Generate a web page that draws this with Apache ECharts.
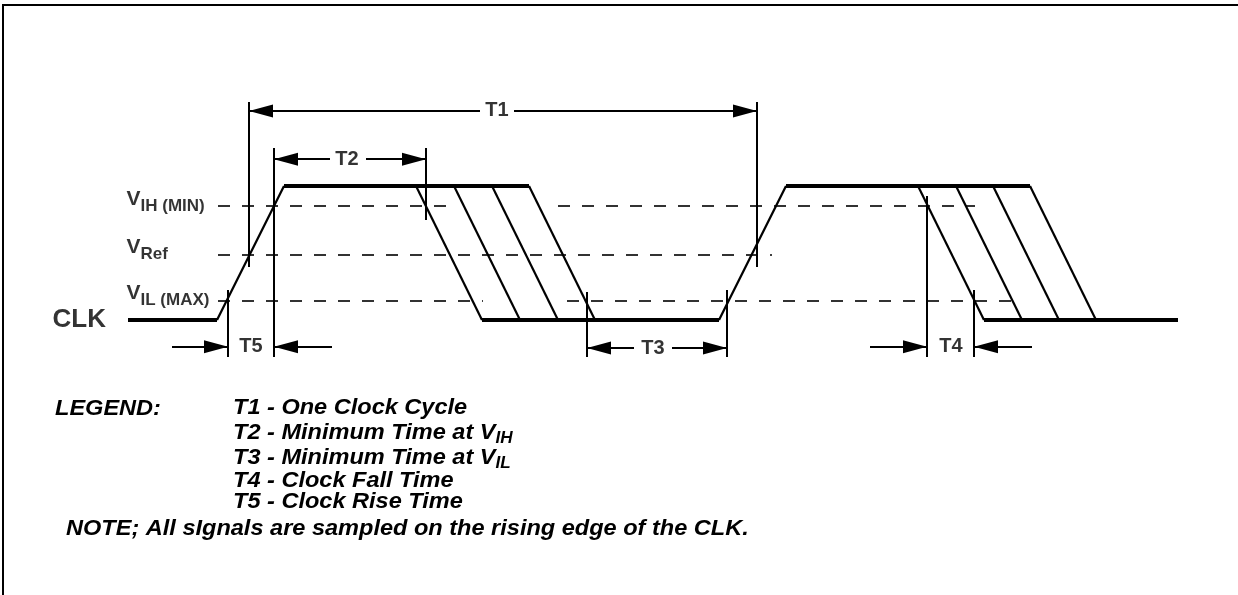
<!DOCTYPE html>
<html>
<head>
<meta charset="utf-8">
<script src="https://cdn.jsdelivr.net/npm/echarts@6/dist/echarts.min.js"></script>
<style>
html, body { margin: 0; padding: 0; background: #fff; }
#main { width: 1238px; height: 595px; }
</style>
</head>
<body>
<div id="main"></div>
<script>
// clock levels: 0 = low, 1 = high
var levelSubs = ['IL (MAX)', 'Ref', 'IH (MIN)'];
var levelValues = [0.145, 0.49, 0.851];
var levelLabelX = 12.6;

// time in units of 10px
var clkStart = 12.8, clkEnd = 117.8;
var riseStarts = [21.7, 71.9];
var riseTime = 6.7;
var fallStarts = [[41.6, 45.4, 49.2, 52.9], [91.8, 95.6, 99.3, 103.0]];
var fallTime = 6.6;

// dashed reference level runs: [level index, from, to]
var dashRuns = [
  [2, 21.8, 45.7], [2, 55.8, 97.5],
  [1, 21.8, 77.2],
  [0, 21.8, 48.3], [0, 56.7, 102.2]
];

// extension lines: [x, yTop, yBottom]
var extLines = [
  [24.9, 1.627, 0.396], [75.7, 1.627, 0.396],
  [27.4, 1.284, -0.276], [42.6, 1.284, 0.746],
  [22.8, 0.224, -0.276],
  [58.7, 0.209, -0.276], [72.7, 0.224, -0.276],
  [92.7, 0.925, -0.276], [97.4, 0.224, -0.276]
];

// dimension marks
var dimNames = ['T1', 'T2', 'T3', 'T4', 'T5'];
var dimY = [1.56, 1.2, -0.209, -0.2, -0.2];
var dimLabelX = [49.7, 34.7, 65.3, 95.1, 25.1];
var dimArrows = [           // [tail, tip] for each half
  [[48.0, 24.9], [51.4, 75.7]],
  [[33.0, 27.4], [36.6, 42.6]],
  [[63.4, 58.7], [67.2, 72.7]],
  [[87.0, 92.7], [103.2, 97.4]],
  [[17.2, 22.8], [33.2, 27.4]]
];

var legendTitle = 'LEGEND:';
var legendLines = [
  ['T1 - One Clock Cycle', ''],
  ['T2 - Minimum Time at V', 'IH'],
  ['T3 - Minimum Time at V', 'IL'],
  ['T4 - Clock Fall Time', ''],
  ['T5 - Clock Rise Time', '']
];
var noteText = 'NOTE; All sIgnals are sampled on the rising edge of the CLK.';

var FONT = '"Liberation Sans", Arial, Helvetica, sans-serif';

// build waveform segments
var flatSegs = [];
var slopeSegs = [];
var lowFrom = clkStart;
riseStarts.forEach(function (rs, i) {
  flatSegs.push({coords: [[lowFrom, 0], [rs, 0]]});
  slopeSegs.push({coords: [[rs, 0], [rs + riseTime, 1]]});
  var falls = fallStarts[i];
  flatSegs.push({coords: [[rs + riseTime, 1], [falls[falls.length - 1], 1]]});
  falls.forEach(function (fs) {
    slopeSegs.push({coords: [[fs, 1], [fs + fallTime, 0]]});
  });
  lowFrom = falls[0] + fallTime;
});
flatSegs.push({coords: [[lowFrom, 0], [clkEnd, 0]]});

var dashSegs = dashRuns.map(function (r) {
  return {coords: [[r[1], levelValues[r[0]]], [r[2], levelValues[r[0]]]]};
});
var extSegs = extLines.map(function (e) {
  return {coords: [[e[0], e[1]], [e[0], e[2]]]};
});

var arrowData = [];
dimArrows.forEach(function (halves, i) {
  halves.forEach(function (h) {
    arrowData.push([
      {coord: [h[0], dimY[i]], symbol: 'none'},
      {coord: [h[1], dimY[i]], symbol: 'triangle', symbolSize: [13, 24], symbolOffset: [0, 12]}
    ]);
  });
});

function linesSeries(data, width, type) {
  return {
    type: 'lines',
    coordinateSystem: 'cartesian2d',
    clip: false,
    silent: true,
    data: data,
    lineStyle: {color: '#000', width: width, type: type || 'solid', opacity: 1}
  };
}

var myChart = echarts.init(document.getElementById('main'));

var textScale = 1.07;
var graphic = [
  {type: 'polyline', shape: {points: [[3, 595], [3, 5], [1238, 5]]},
    style: {stroke: '#000', lineWidth: 2, fill: null}},
  {type: 'text', x: 55, y: 409, scaleX: textScale,
    style: {text: legendTitle, font: 'italic bold 22px ' + FONT, fill: '#000', verticalAlign: 'middle'}}
];
var legendY = [408, 433, 458, 481, 502];
legendLines.forEach(function (l, i) {
  graphic.push({
    type: 'text', x: 233, y: legendY[i], scaleX: textScale,
    style: {
      text: l[1] ? l[0] + '{s|' + l[1] + '}' : l[0],
      font: 'italic bold 22px ' + FONT,
      fill: '#000',
      verticalAlign: 'middle',
      rich: {s: {font: 'italic bold 16px ' + FONT, fill: '#000', padding: [12, 0, 0, 0]}}
    }
  });
});
graphic.push({type: 'text', x: 66, y: 529, scaleX: textScale,
  style: {text: noteText, font: 'italic bold 22px ' + FONT, fill: '#000', verticalAlign: 'middle'}});

var option = {
  animation: false,
  textStyle: {fontFamily: FONT},
  // y: 0 = low level, 1 = high level
  grid: {left: 0, right: 38, top: 52, bottom: 208},
  xAxis: {type: 'value', min: 0, max: 120, show: false},
  yAxis: {type: 'value', min: -0.5, max: 2, show: false},
  graphic: graphic,
  series: [
    linesSeries(flatSegs, 4),
    linesSeries(slopeSegs, 2.2),
    linesSeries(dashSegs, 1.6, [12, 12]),
    linesSeries(extSegs, 2),
    {
      type: 'line',
      data: [],
      clip: false,
      silent: true,
      markLine: {
        silent: true,
        animation: false,
        symbol: ['none', 'triangle'],
        symbolSize: 12,
        label: {show: false},
        lineStyle: {color: '#000', width: 2, type: 'solid'},
        emphasis: {disabled: true},
        data: arrowData
      }
    },
    {
      type: 'scatter',
      clip: false,
      silent: true,
      symbolSize: 1,
      itemStyle: {color: 'transparent'},
      data: dimNames.map(function (n, i) { return {name: n, value: [dimLabelX[i], dimY[i]]}; }),
      label: {
        show: true, position: 'inside', color: '#000',
        fontSize: 20, fontWeight: 'bold',
        formatter: function (p) { return p.name; }
      }
    },
    {
      type: 'scatter',
      clip: false,
      silent: true,
      symbolSize: 1,
      itemStyle: {color: 'transparent'},
      data: levelSubs.map(function (s, i) { return {name: s, value: [levelLabelX, levelValues[i]]}; }),
      label: {
        show: true, position: 'right', distance: 0, offset: [0, -7], color: '#000',
        formatter: function (p) { return '{v|V}{s|' + p.name + '}'; },
        rich: {
          v: {fontSize: 21, fontWeight: 'bold', color: '#000'},
          s: {fontSize: 17, fontWeight: 'bold', color: '#000', padding: [14, 0, 0, 0]}
        }
      }
    },
    {
      type: 'scatter',
      clip: false,
      silent: true,
      symbolSize: 1,
      itemStyle: {color: 'transparent'},
      data: [{name: 'CLK', value: [5.2, 0]}],
      label: {
        show: true, position: 'right', distance: 0, color: '#000',
        fontSize: 26, fontWeight: 'bold',
        formatter: function (p) { return p.name; }
      }
    }
  ]
};

myChart.setOption(option);
</script>
</body>
</html>
